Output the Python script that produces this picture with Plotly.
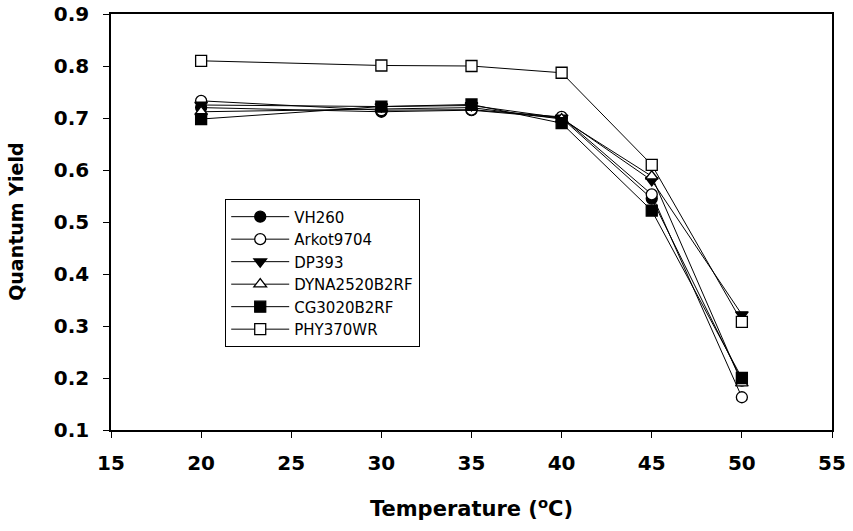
import plotly.graph_objects as go

# Temperature response of quantum yield for six cotton cultivars
temperature = [20, 30, 35, 40, 45, 50]

vh260 = [0.720, 0.712, 0.715, 0.700, 0.545, 0.195]
arkot9704 = [0.733, 0.715, 0.716, 0.702, 0.553, 0.163]
dp393 = [0.725, 0.722, 0.724, 0.700, 0.580, 0.322]
dyna2520b2rf = [0.712, 0.718, 0.720, 0.698, 0.588, 0.190]
cg3020b2rf = [0.698, 0.722, 0.726, 0.690, 0.522, 0.200]
phy370wr = [0.810, 0.801, 0.800, 0.787, 0.610, 0.308]

series_names = ["VH260", "Arkot9704", "DP393", "DYNA2520B2RF", "CG3020B2RF", "PHY370WR"]
series_values = [vh260, arkot9704, dp393, dyna2520b2rf, cg3020b2rf, phy370wr]
symbols = ["circle", "circle", "triangle-down", "triangle-up", "square", "square"]
fills = ["black", "white", "black", "white", "black", "white"]

x_ticks = [15, 20, 25, 30, 35, 40, 45, 50, 55]
y_ticks = [0.1, 0.2, 0.3, 0.4, 0.5, 0.6, 0.7, 0.8, 0.9]

fig = go.Figure()
for name, vals, sym, fill in zip(series_names, series_values, symbols, fills):
    fig.add_trace(go.Scatter(
        x=temperature, y=vals, name=name, mode="lines+markers",
        line=dict(color="black", width=1),
        marker=dict(symbol=sym, size=11, color=fill,
                    line=dict(color="black", width=1.3)),
    ))

axis_font = dict(family="DejaVu Sans, sans-serif", size=20,
                 color="black", weight="bold")
title_font = dict(family="DejaVu Sans, sans-serif", size=19,
                  color="black", weight="bold")

fig.update_layout(
    width=853, height=531,
    margin=dict(l=111, r=21, t=14, b=101, autoexpand=False),
    paper_bgcolor="white", plot_bgcolor="white",
    showlegend=True,
    legend=dict(
        x=0.158, y=0.555, xanchor="left", yanchor="top",
        bordercolor="black", borderwidth=1.3, bgcolor="white",
        font=dict(family="DejaVu Sans, sans-serif", size=15, color="black"),
        tracegroupgap=0, itemwidth=58,
    ),
    xaxis=dict(
        range=[15, 55], tickvals=x_ticks, ticktext=[str(v) for v in x_ticks],
        showgrid=False, zeroline=False, automargin=False,
        showline=True, linecolor="black", linewidth=1.6, mirror=True,
        ticks="outside", ticklen=6, tickwidth=1.3, tickcolor="black",
        tickfont=axis_font, ticklabelstandoff=8,
        title=dict(text="Temperature (<sup>o</sup>C)",
                   font=dict(title_font, size=21), standoff=28),
    ),
    yaxis=dict(
        range=[0.1, 0.9], tickvals=y_ticks, ticktext=[f"{v:.1f}" for v in y_ticks],
        showgrid=False, zeroline=False, automargin=False,
        showline=True, linecolor="black", linewidth=1.6, mirror=True,
        ticks="outside", ticklen=6, tickwidth=1.3, tickcolor="black",
        tickfont=axis_font, ticklabelstandoff=10,
    ),
    annotations=[dict(
        text="Quantum Yield", textangle=-90, showarrow=False,
        xref="paper", yref="paper", x=-0.132, y=0.5,
        xanchor="center", yanchor="middle", font=title_font,
    )],
)

fig.write_html("out.html")
